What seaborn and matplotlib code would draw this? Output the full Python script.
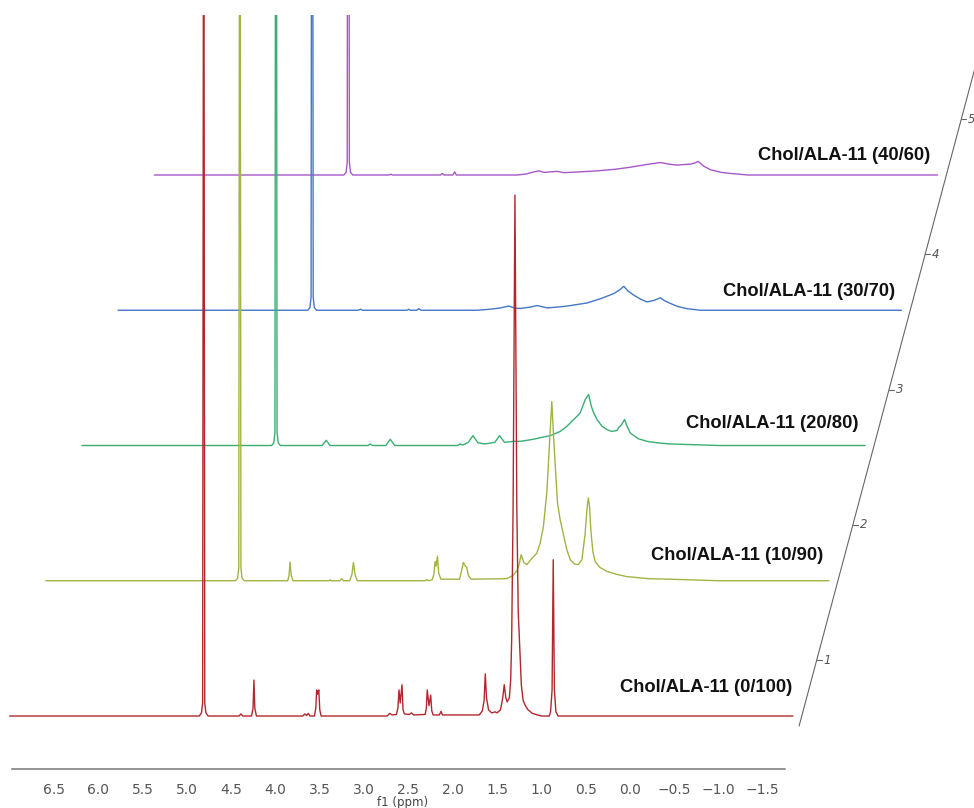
import numpy as np
import pandas as pd
import matplotlib
matplotlib.use("Agg")
import matplotlib.pyplot as plt
import seaborn as sns

# Stacked 1H NMR spectra, bottom to top
samples = ['Chol/ALA-11 (0/100)', 'Chol/ALA-11 (10/90)', 'Chol/ALA-11 (20/80)',
           'Chol/ALA-11 (30/70)', 'Chol/ALA-11 (40/60)']
colors = ['#b0282d', '#a2b444', '#3aae72', '#4477c6', '#a956c9']

# x axis ticks
tick_vals = [6.5, 6.0, 5.5, 5.0, 4.5, 4.0, 3.5, 3.0, 2.5, 2.0, 1.5, 1.0, 0.5, 0.0, -0.5, -1.0, -1.5]
tick_labels = ['6.5', '6.0', '5.5', '5.0', '4.5', '4.0', '3.5', '3.0', '2.5', '2.0', '1.5',
               '1.0', '0.5', '0.0', '\u22120.5', '\u22121.0', '\u22121.5']
stack_ticks = [1, 2, 3, 4, 5]

# spectra: shift (ppm) / intensity (a.u., 1.30 ppm peak of 0/100 = 100)
# the 4.81 ppm HOD line runs off scale in every spectrum
ppm_0_100 = [7.00, 4.86, 4.835, 4.822, 4.81, 4.798, 4.785, 4.76,
             4.41, 4.39, 4.37,
             4.27, 4.253, 4.243, 4.233, 4.215,
             3.69, 3.67, 3.65, 3.63, 3.61,
             3.56, 3.545, 3.535, 3.523, 3.511, 3.50, 3.485,
             2.74, 2.71, 2.68,
             2.635, 2.618, 2.606, 2.592, 2.572, 2.56, 2.545,
             2.49, 2.465, 2.44,
             2.31, 2.297, 2.287, 2.267, 2.248, 2.236, 2.22,
             2.15, 2.132, 2.115,
             1.70, 1.665, 1.645, 1.632, 1.618, 1.595, 1.56,
             1.52, 1.50, 1.46, 1.435, 1.418, 1.40, 1.385, 1.36,
             1.345, 1.334, 1.318, 1.297, 1.276, 1.26, 1.24, 1.225, 1.205, 1.18, 1.15, 1.10, 1.00,
             0.91, 0.895, 0.878, 0.865, 0.852, 0.835, 0.81, -1.84]
int_0_100 = [0, 0, 0.6, 2.5, 200, 2.5, 0.6, 0,
             0, 0.4, 0,
             0, 1.5, 6.9, 1.5, 0,
             0, 0.4, 0.1, 0.5, 0,
             0, 1.5, 5.0, 4.2, 5.0, 1.2, 0,
             0, 0.5, 0.2,
             0.3, 1.5, 5.0, 2.5, 6.0, 1.2, 0.4,
             0.3, 0.6, 0.2,
             0.3, 1.5, 5.0, 2.0, 4.0, 1.0, 0.2,
             0.2, 0.9, 0.2,
             0.2, 1.0, 3.0, 8.1, 3.5, 1.2, 0.6,
             0.8, 0.6, 1.2, 3.5, 6.0, 3.5, 2.7, 3.5,
             7.0, 14.6, 40, 100, 40, 20, 12, 6, 3, 2, 1.2, 0.5, 0,
             0, 0.8, 5.0, 30, 5.0, 0.8, 0, 0]

ppm_10_90 = [7.00, 4.86, 4.835, 4.822, 4.81, 4.798, 4.785, 4.76,
             4.27, 4.255, 4.243, 4.23, 4.21,
             3.80, 3.79, 3.78,
             3.68, 3.66, 3.64,
             3.57, 3.545, 3.528, 3.51, 3.485,
             2.72, 2.70, 2.68,
             2.64, 2.62, 2.606, 2.595, 2.58, 2.565, 2.54,
             2.33, 2.30, 2.287, 2.265, 2.25, 2.23, 2.20,
             1.80, 1.726, 1.68, 1.66, 1.635, 1.605, 1.571, 1.52, 1.458, 1.421,
             1.384, 1.345, 1.327, 1.31, 1.289, 1.27, 1.252, 1.225, 1.195, 1.12,
             1.08, 1.03, 0.99, 0.95, 0.913, 0.902, 0.888, 0.876, 0.862, 0.849,
             0.825, 0.80, 0.75, 0.668, 0.55, 0.443, 0.20, -0.05, -0.60, -1.84]
int_10_90 = [0, 0, 0.5, 2.5, 200, 2.5, 0.5, 0,
             0, 1.0, 3.6, 1.0, 0,
             0, 0.2, 0,
             0, 0.4, 0,
             0, 1.2, 3.5, 1.2, 0,
             0, 0.2, 0,
             0.2, 1.2, 3.7, 2.8, 4.7, 1.4, 0.3,
             0.3, 2.5, 3.5, 2.8, 2.6, 1.0, 0.3,
             0.4, 1.0, 2.0, 3.0, 5.0, 3.5, 3.1, 4.2, 5.3, 7.2,
             10.4, 17.0, 22.6, 28.0, 34.4, 28.0, 22.6, 15.0, 11.7, 6.0,
             4.0, 3.2, 3.1, 4.0, 9.0, 11.7, 14.5, 15.9, 14.0, 9.8,
             5.5, 3.7, 2.6, 1.8, 1.2, 0.8, 0.4, 0.3, 0, 0]

ppm_20_80 = [7.00, 4.86, 4.835, 4.822, 4.81, 4.798, 4.785, 4.76,
             4.29, 4.243, 4.20,
             3.77, 3.746, 3.72,
             3.57, 3.52, 3.47,
             2.76, 2.73, 2.70, 2.64, 2.587, 2.53, 2.45, 2.34, 2.287, 2.23,
             2.129, 2.053, 1.903, 1.827, 1.714, 1.602, 1.526, 1.45, 1.413, 1.376,
             1.32, 1.282, 1.25, 1.226, 1.187, 1.131, 1.07, 1.018, 0.96, 0.944,
             0.91, 0.876, 0.85, 0.812, 0.72, 0.623, 0.50, 0.36, 0.0, -0.2, -1.84]
int_20_80 = [0, 0, 0.5, 2.5, 200, 2.5, 0.5, 0,
             0, 1.0, 0,
             0, 0.3, 0,
             0, 1.2, 0,
             0, 0.3, 0.1, 0.6, 1.9, 0.5, 0.3, 0.6, 1.9, 0.6,
             0.8, 0.8, 1.2, 1.5, 1.9, 2.7, 3.7, 5.0, 5.6, 6.3,
             8.8, 9.8, 7.5, 6.3, 5.0, 3.7, 3.0, 2.7, 2.9, 3.4,
             4.0, 5.0, 3.8, 2.4, 1.3, 0.8, 0.5, 0.3, 0.1, 0, 0]

ppm_30_70 = [7.00, 4.86, 4.835, 4.822, 4.81, 4.798, 4.785, 4.76,
             4.29, 4.265, 4.24,
             3.74, 3.72, 3.70, 3.63, 3.607, 3.58,
             2.95, 2.835, 2.70, 2.591, 2.52, 2.46, 2.35, 2.271, 2.158, 2.05,
             1.932, 1.82, 1.707, 1.557, 1.406, 1.34, 1.293, 1.24, 1.18, 1.10,
             1.03, 0.95, 0.879, 0.83, 0.766, 0.68, 0.578, 0.428, -1.84]
int_30_70 = [0, 0, 0.5, 2.5, 200, 2.5, 0.5, 0,
             0, 0.2, 0,
             0, 0.2, 0, 0, 0.3, 0,
             0, 0.15, 0.4, 0.8, 0.4, 0.35, 0.6, 0.9, 0.45, 0.6,
             0.8, 1.1, 1.4, 2.2, 3.2, 3.9, 4.6, 3.6, 2.9, 2.1,
             1.6, 1.9, 2.4, 1.8, 1.3, 0.7, 0.3, 0, 0]

ppm_40_60 = [7.00, 4.86, 4.835, 4.822, 4.81, 4.798, 4.785, 4.76,
             4.35, 4.33, 4.31,
             3.77, 3.75, 3.73, 3.63, 3.61, 3.59,
             2.90, 2.80, 2.715, 2.659, 2.60, 2.527, 2.452, 2.377, 2.20, 2.00,
             1.80, 1.624, 1.45, 1.286, 1.20, 1.097, 0.947, 0.90, 0.86, 0.80,
             0.721, 0.60, 0.496, 0.30, -1.84]
int_40_60 = [0, 0, 0.5, 2.5, 200, 2.5, 0.5, 0,
             0, 0.15, 0,
             0, 0.3, 0, 0, 0.6, 0,
             0, 0.2, 0.6, 0.8, 0.5, 0.6, 0.7, 0.45, 0.6, 0.8,
             1.1, 1.5, 2.0, 2.4, 2.1, 1.9, 2.1, 2.3, 2.6, 1.7,
             1.0, 0.5, 0.3, 0, 0]

spectra = [(ppm_0_100, int_0_100), (ppm_10_90, int_10_90), (ppm_20_80, int_20_80),
           (ppm_30_70, int_30_70), (ppm_40_60, int_40_60)]

# stacking: each spectrum moves right (lower ppm) and up
step_ppm = 0.408
step_int = 25.96
label_lift = [5.4, 4.8, 4.2, 3.6, 3.8]
label_gap = [0.01, 0.07, 0.07, 0.07, 0.08]

frames = []
for i, (name, (p, v)) in enumerate(zip(samples, spectra)):
    frames.append(pd.DataFrame({'x': np.array(p) - i * step_ppm,
                                'y': np.array(v) + i * step_int,
                                'sample': name}))
df = pd.concat(frames, ignore_index=True)

sns.set_style('white')
plt.rcParams['font.family'] = ['DejaVu Sans']

fig = plt.figure(figsize=(9.74, 8.08), dpi=100)
ax = fig.add_axes([0, 39 / 808, 1, 754 / 808])

sns.lineplot(data=df, x='x', y='y', hue='sample', hue_order=samples[::-1],
             palette=dict(zip(samples, colors)), sort=False, estimator=None,
             legend=False, linewidth=1.0, ax=ax)

ax.set_xlim(7.109, -3.884)
ax.set_ylim(-10.17, 134.55)

# sample labels
for i, name in enumerate(samples):
    end = ppm_0_100[-1] - i * step_ppm
    ax.text(end + label_gap[i], i * step_int + label_lift[i], name, ha='right', va='center',
            fontsize=13.2, fontweight='bold', family=['Liberation Sans', 'DejaVu Sans'],
            color='#111111')

# slanted stack axis on the right
axis_ppm0 = -1.94
s = np.array([-0.074, 5.2])
ax.plot(axis_ppm0 - s * step_ppm, s * step_int, color='#666666', lw=0.8)
for k in stack_ticks:
    sk = k - 0.586
    x0 = axis_ppm0 - sk * step_ppm
    y0 = sk * step_int
    ax.plot([x0, x0 - 0.056], [y0, y0], color='#666666', lw=0.8)
    ax.text(x0 - 0.075, y0, str(k), style='italic', fontsize=8.5, color='#555555',
            ha='left', va='center')

# ppm axis
for side in ['left', 'right', 'top']:
    ax.spines[side].set_visible(False)
ax.spines['bottom'].set_bounds(6.97, -1.75)
ax.spines['bottom'].set_color('#777777')
ax.spines['bottom'].set_linewidth(1.1)
ax.set_yticks([])
ax.set_xticks(tick_vals)
ax.set_xticklabels(tick_labels)
ax.set_xticks([t - 0.25 for t in tick_vals] + [6.75], minor=True)
ax.tick_params(axis='x', which='major', length=3, width=0.8, color='#777777',
               pad=7, labelsize=10, labelcolor='#555555')
ax.tick_params(axis='x', which='minor', length=1.8, width=0.8, color='#777777')
ax.set_xlabel('f1 (ppm)', fontsize=8.5, color='#444444')
ax.xaxis.set_label_coords(403 / 974, -0.036)
ax.set_ylabel('')

fig.savefig('out.png', dpi=100, facecolor='white')
